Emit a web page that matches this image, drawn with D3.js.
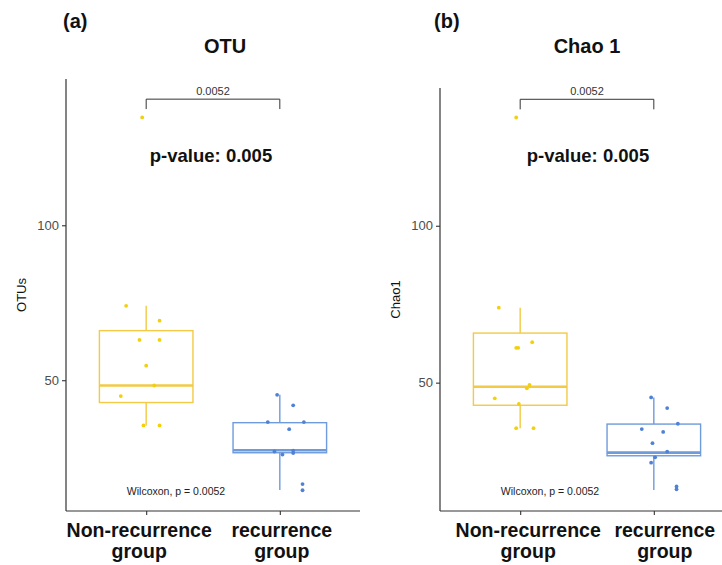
<!DOCTYPE html>
<html>
<head>
<meta charset="utf-8">
<script src="https://cdn.jsdelivr.net/npm/d3@7"></script>
<style>
  html, body { margin: 0; padding: 0; background: #fff; }
  svg { display: block; font-family: "Liberation Sans", Arial, sans-serif; }
</style>
</head>
<body>
<svg id="chart" width="722" height="565"></svg>
<script>
// Groups shown on the x axis
const groups = ["Non-recurrence group", "recurrence group"];
const groupLines = [["Non-recurrence", "group"], ["recurrence", "group"]];
const yTicks = [50, 100];

// OTU counts per sample
const otuNonRec = [134.8, 74.0, 69.2, 63.0, 63.0, 54.7, 48.3, 44.9, 35.4, 35.4];
const otuRec = [45.3, 41.9, 36.5, 36.5, 34.2, 27.0, 26.0, 27.3, 26.5, 16.5, 14.5];
// horizontal jitter of each sample, in category widths
const otuNonRecJitter = [-0.03, -0.15, 0.10, -0.05, 0.10, 0.00, 0.06, -0.19, -0.02, 0.10];
const otuRecJitter = [-0.02, 0.10, -0.09, 0.18, 0.07, -0.04, 0.02, 0.10, 0.10, 0.17, 0.17];
// box statistics: lower whisker, Q1, median, Q3, upper whisker
const otuNonRecBox = [35.4, 42.8, 48.3, 66.0, 74.0];
const otuRecBox = [14.6, 26.6, 27.4, 36.3, 45.3];

// Chao1 richness per sample
const chaoNonRec = [134.5, 73.9, 62.9, 61.1, 61.1, 49.3, 48.2, 45.0, 43.2, 35.5, 35.5];
const chaoRec = [45.3, 41.9, 36.9, 35.2, 34.3, 30.7, 28.0, 26.2, 24.5, 16.9, 16.0];
const chaoNonRecJitter = [-0.03, -0.16, 0.09, -0.03, -0.015, 0.07, 0.05, -0.19, -0.01, -0.03, 0.10];
const chaoRecJitter = [-0.02, 0.10, 0.18, -0.09, 0.07, -0.01, 0.10, 0.01, -0.02, 0.17, 0.17];
const chaoNonRecBox = [35.5, 42.8, 48.7, 65.8, 73.9];
const chaoRecBox = [15.8, 26.7, 27.7, 36.8, 45.3];

// Wilcoxon test results
const wilcoxonP = 0.0052;
const pValueRounded = 0.005;

const colors = {
  box: ["#F2CA45", "#6E9BDC"],
  point: ["#F2D10C", "#4F82D6"]
};

const svg = d3.select("#chart");

function drawPanel(cfg) {
  const g = svg.append("g");

  const x = d3.scalePoint()
    .domain(groups)
    .range([cfg.left, cfg.left + 294])
    .padding(0.6);
  const y = d3.scaleLinear()
    .domain(cfg.yDomain)
    .range([cfg.bottom, cfg.top]);
  const step = x.step();
  const boxW = 0.7 * step;

  // boxes
  cfg.boxes.forEach((b, i) => {
    const cx = x(groups[i]);
    const col = colors.box[i];
    const [lo, q1, med, q3, hi] = b;
    g.append("line")
      .attr("x1", cx).attr("x2", cx)
      .attr("y1", y(q3)).attr("y2", y(hi))
      .attr("stroke", col).attr("stroke-width", 1.4);
    g.append("line")
      .attr("x1", cx).attr("x2", cx)
      .attr("y1", y(q1)).attr("y2", y(lo))
      .attr("stroke", col).attr("stroke-width", 1.4);
    g.append("rect")
      .attr("x", cx - boxW / 2).attr("width", boxW)
      .attr("y", y(q3)).attr("height", y(q1) - y(q3))
      .attr("fill", "none")
      .attr("stroke", col).attr("stroke-width", 1.4);
    g.append("line")
      .attr("x1", cx - boxW / 2).attr("x2", cx + boxW / 2)
      .attr("y1", y(med)).attr("y2", y(med))
      .attr("stroke", col).attr("stroke-width", 2.6);
  });

  // jittered samples
  cfg.points.forEach((vals, i) => {
    const cx = x(groups[i]);
    g.selectAll(null)
      .data(vals.map((v, k) => ({ v, j: cfg.jitter[i][k] })))
      .join("circle")
      .attr("cx", d => cx + d.j * step)
      .attr("cy", d => y(d.v))
      .attr("r", 1.9)
      .attr("fill", colors.point[i]);
  });

  // axes
  const yAxis = d3.axisLeft(y).tickValues(yTicks).tickSize(4).tickPadding(3);
  const ya = g.append("g").attr("transform", `translate(${cfg.left},0)`).call(yAxis);
  ya.select(".domain").attr("stroke", "#333").attr("stroke-width", 1.2)
    .attr("d", `M0,${cfg.top}V${cfg.bottom}`);
  ya.selectAll(".tick line").attr("stroke", "#333").attr("stroke-width", 1.1);
  ya.selectAll(".tick text").attr("fill", "#4d4d4d").attr("font-size", 13)
    .attr("font-family", "Liberation Sans, Arial, sans-serif");

  const xAxis = d3.axisBottom(x).tickSize(4).tickFormat("");
  const xa = g.append("g").attr("transform", `translate(0,${cfg.bottom})`).call(xAxis);
  xa.select(".domain").attr("stroke", "#333").attr("stroke-width", 1.2)
    .attr("d", `M${cfg.left},0H${cfg.left + 294}`);
  xa.selectAll(".tick line").attr("stroke", "#333").attr("stroke-width", 1.1);

  // category labels
  groups.forEach((gName, i) => {
    const t = g.append("text")
      .attr("text-anchor", "middle")
      .attr("font-weight", "bold")
      .attr("font-size", 19.5)
      .attr("fill", "#111");
    groupLines[i].forEach((line, k) => {
      t.append("tspan")
        .attr("x", x(gName) + cfg.labelShift[i])
        .attr("y", 537 + k * 21)
        .text(line);
    });
  });

  // y axis title
  g.append("text")
    .attr("transform", `translate(${cfg.yTitleX},${(cfg.top + cfg.bottom) / 2}) rotate(-90)`)
    .attr("text-anchor", "middle")
    .attr("font-size", 13)
    .attr("fill", "#111")
    .text(cfg.yTitle);

  // panel tag and title
  g.append("text")
    .attr("x", cfg.tagX).attr("y", 28)
    .attr("font-weight", "bold").attr("font-size", 20)
    .attr("fill", "#111")
    .text(cfg.tag);
  g.append("text")
    .attr("x", cfg.titleX).attr("y", 53)
    .attr("text-anchor", "middle")
    .attr("font-weight", "bold").attr("font-size", 20)
    .attr("fill", "#111")
    .text(cfg.title);

  // significance bracket
  const x1 = x(groups[0]), x2 = x(groups[1]);
  const by = y(cfg.bracket[0]), bt = y(cfg.bracket[1]);
  g.append("path")
    .attr("d", `M${x1},${bt}V${by}H${x2}V${bt}`)
    .attr("fill", "none")
    .attr("stroke", "#333").attr("stroke-width", 1);
  g.append("text")
    .attr("x", (x1 + x2) / 2).attr("y", by - 4)
    .attr("text-anchor", "middle")
    .attr("font-size", 11).attr("fill", "#333")
    .text(wilcoxonP.toFixed(4));

  // test annotations
  g.append("text")
    .attr("x", cfg.pTextX).attr("y", 162)
    .attr("text-anchor", "middle")
    .attr("font-weight", "bold").attr("font-size", 18.5)
    .attr("fill", "#111")
    .text(`p-value: ${pValueRounded.toFixed(3)}`);
  g.append("text")
    .attr("x", cfg.wilcoxonX).attr("y", 495)
    .attr("text-anchor", "middle")
    .attr("font-size", 10.5).attr("fill", "#222")
    .text(`Wilcoxon, p = ${wilcoxonP.toFixed(4)}`);
}

drawPanel({
  left: 66, top: 79, bottom: 511,
  yDomain: [7.8, 147.2],
  boxes: [otuNonRecBox, otuRecBox],
  points: [otuNonRec, otuRec],
  jitter: [otuNonRecJitter, otuRecJitter],
  bracket: [140.7, 137.5],
  yTitle: "OTUs", yTitleX: 26,
  tag: "(a)", tagX: 63,
  title: "OTU", titleX: 225,
  pTextX: 211, wilcoxonX: 176,
  labelShift: [-7, 2]
});

drawPanel({
  left: 440, top: 88, bottom: 511,
  yDomain: [9.1, 143.9],
  boxes: [chaoNonRecBox, chaoRecBox],
  points: [chaoNonRec, chaoRec],
  jitter: [chaoNonRecJitter, chaoRecJitter],
  bracket: [140.3, 137.1],
  yTitle: "Chao1", yTitleX: 399.5,
  tag: "(b)", tagX: 434,
  title: "Chao 1", titleX: 587,
  pTextX: 588, wilcoxonX: 550,
  labelShift: [8, 11]
});
</script>
</body>
</html>
